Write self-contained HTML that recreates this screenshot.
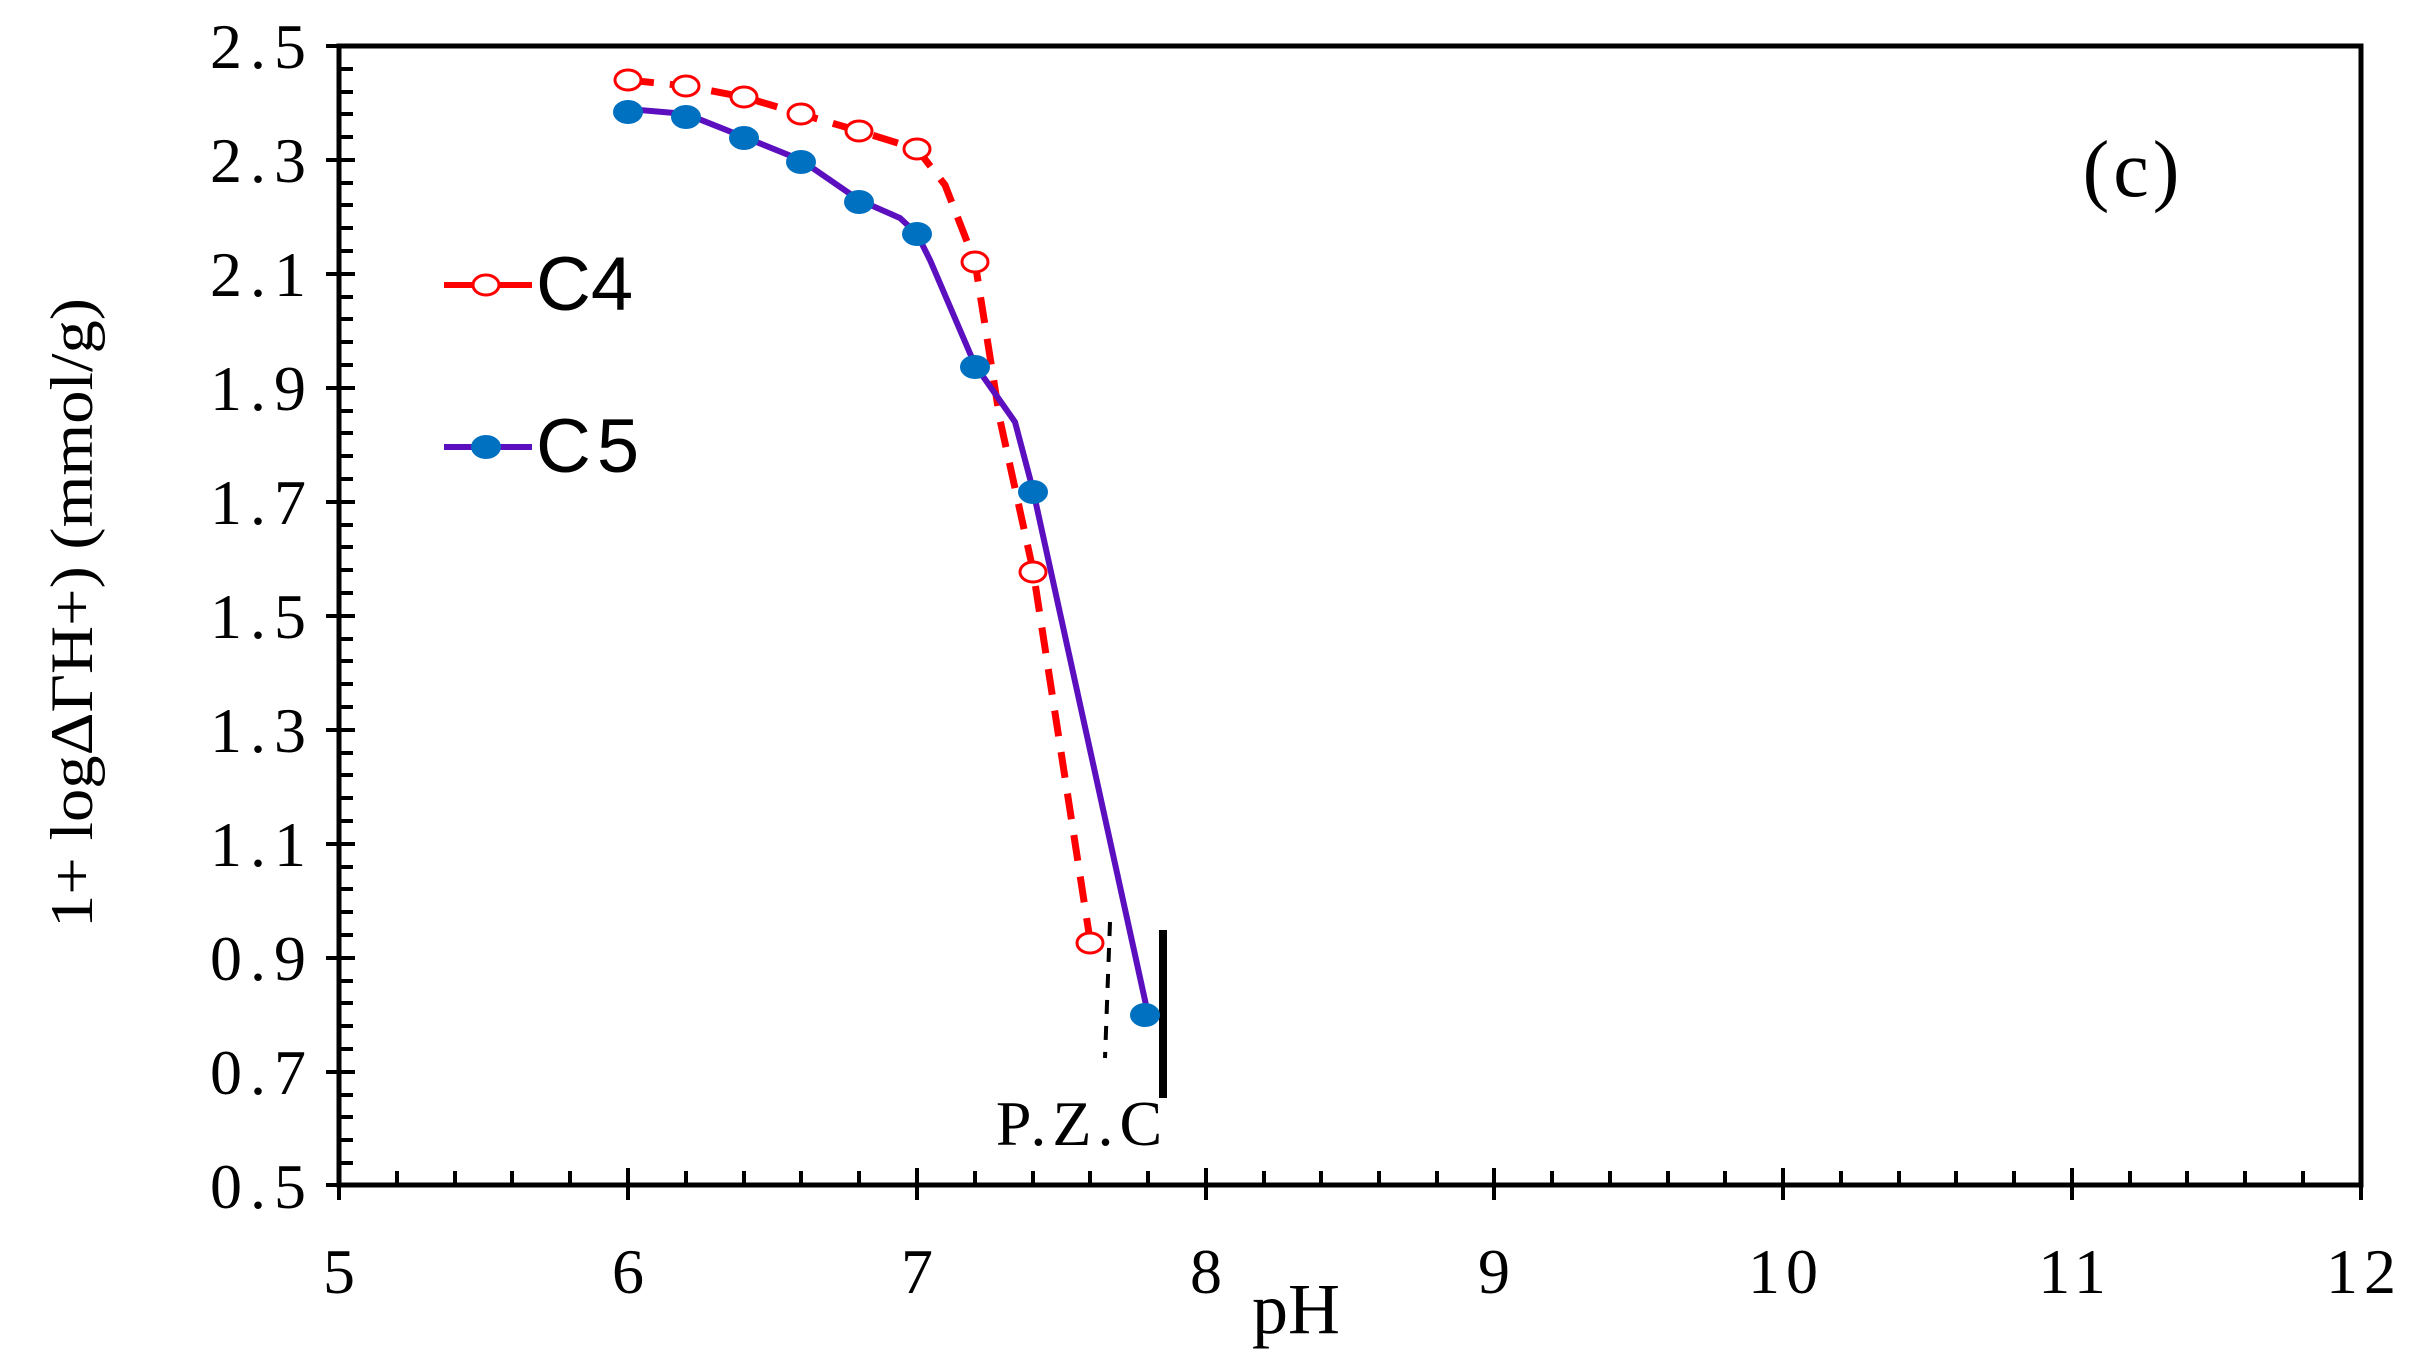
<!DOCTYPE html>
<html><head><style>html,body{margin:0;padding:0;background:#fff;}svg{display:block;}</style></head>
<body>
<svg width="2420" height="1371" viewBox="0 0 2420 1371" xmlns="http://www.w3.org/2000/svg">
<g stroke="#000" stroke-width="4">
<line x1="326" y1="46" x2="355" y2="46"/><line x1="339" y1="69" x2="353" y2="69"/><line x1="339" y1="92" x2="353" y2="92"/><line x1="339" y1="114" x2="353" y2="114"/><line x1="339" y1="137" x2="353" y2="137"/>
<line x1="326" y1="160" x2="355" y2="160"/><line x1="339" y1="183" x2="353" y2="183"/><line x1="339" y1="205" x2="353" y2="205"/><line x1="339" y1="228" x2="353" y2="228"/><line x1="339" y1="251" x2="353" y2="251"/>
<line x1="326" y1="274" x2="355" y2="274"/><line x1="339" y1="297" x2="353" y2="297"/><line x1="339" y1="319" x2="353" y2="319"/><line x1="339" y1="342" x2="353" y2="342"/><line x1="339" y1="365" x2="353" y2="365"/>
<line x1="326" y1="388" x2="355" y2="388"/><line x1="339" y1="411" x2="353" y2="411"/><line x1="339" y1="433" x2="353" y2="433"/><line x1="339" y1="456" x2="353" y2="456"/><line x1="339" y1="479" x2="353" y2="479"/>
<line x1="326" y1="502" x2="355" y2="502"/><line x1="339" y1="525" x2="353" y2="525"/><line x1="339" y1="547" x2="353" y2="547"/><line x1="339" y1="570" x2="353" y2="570"/><line x1="339" y1="593" x2="353" y2="593"/>
<line x1="326" y1="616" x2="355" y2="616"/><line x1="339" y1="639" x2="353" y2="639"/><line x1="339" y1="661" x2="353" y2="661"/><line x1="339" y1="684" x2="353" y2="684"/><line x1="339" y1="707" x2="353" y2="707"/>
<line x1="326" y1="730" x2="355" y2="730"/><line x1="339" y1="753" x2="353" y2="753"/><line x1="339" y1="775" x2="353" y2="775"/><line x1="339" y1="798" x2="353" y2="798"/><line x1="339" y1="821" x2="353" y2="821"/>
<line x1="326" y1="844" x2="355" y2="844"/><line x1="339" y1="867" x2="353" y2="867"/><line x1="339" y1="889" x2="353" y2="889"/><line x1="339" y1="912" x2="353" y2="912"/><line x1="339" y1="935" x2="353" y2="935"/>
<line x1="326" y1="958" x2="355" y2="958"/><line x1="339" y1="981" x2="353" y2="981"/><line x1="339" y1="1003" x2="353" y2="1003"/><line x1="339" y1="1026" x2="353" y2="1026"/><line x1="339" y1="1049" x2="353" y2="1049"/>
<line x1="326" y1="1072" x2="355" y2="1072"/><line x1="339" y1="1095" x2="353" y2="1095"/><line x1="339" y1="1117" x2="353" y2="1117"/><line x1="339" y1="1140" x2="353" y2="1140"/><line x1="339" y1="1163" x2="353" y2="1163"/>
<line x1="326" y1="1185" x2="355" y2="1185"/>
<line x1="339" y1="1168" x2="339" y2="1200"/><line x1="397" y1="1171" x2="397" y2="1185"/><line x1="455" y1="1171" x2="455" y2="1185"/><line x1="512" y1="1171" x2="512" y2="1185"/><line x1="570" y1="1171" x2="570" y2="1185"/>
<line x1="628" y1="1168" x2="628" y2="1200"/><line x1="686" y1="1171" x2="686" y2="1185"/><line x1="744" y1="1171" x2="744" y2="1185"/><line x1="801" y1="1171" x2="801" y2="1185"/><line x1="859" y1="1171" x2="859" y2="1185"/>
<line x1="917" y1="1168" x2="917" y2="1200"/><line x1="975" y1="1171" x2="975" y2="1185"/><line x1="1033" y1="1171" x2="1033" y2="1185"/><line x1="1090" y1="1171" x2="1090" y2="1185"/><line x1="1148" y1="1171" x2="1148" y2="1185"/>
<line x1="1206" y1="1168" x2="1206" y2="1200"/><line x1="1264" y1="1171" x2="1264" y2="1185"/><line x1="1321" y1="1171" x2="1321" y2="1185"/><line x1="1379" y1="1171" x2="1379" y2="1185"/><line x1="1437" y1="1171" x2="1437" y2="1185"/>
<line x1="1494" y1="1168" x2="1494" y2="1200"/><line x1="1552" y1="1171" x2="1552" y2="1185"/><line x1="1610" y1="1171" x2="1610" y2="1185"/><line x1="1668" y1="1171" x2="1668" y2="1185"/><line x1="1725" y1="1171" x2="1725" y2="1185"/>
<line x1="1783" y1="1168" x2="1783" y2="1200"/><line x1="1841" y1="1171" x2="1841" y2="1185"/><line x1="1899" y1="1171" x2="1899" y2="1185"/><line x1="1956" y1="1171" x2="1956" y2="1185"/><line x1="2014" y1="1171" x2="2014" y2="1185"/>
<line x1="2072" y1="1168" x2="2072" y2="1200"/><line x1="2130" y1="1171" x2="2130" y2="1185"/><line x1="2187" y1="1171" x2="2187" y2="1185"/><line x1="2245" y1="1171" x2="2245" y2="1185"/><line x1="2303" y1="1171" x2="2303" y2="1185"/>
<line x1="2361" y1="1168" x2="2361" y2="1200"/>
</g>
<rect x="339" y="46" width="2022" height="1139" fill="none" stroke="#000" stroke-width="5"/>
<g font-family="Liberation Serif, serif" font-size="64" fill="#000" text-anchor="end" letter-spacing="8">
<text x="314" y="68">2.5</text><text x="314" y="182">2.3</text><text x="314" y="296">2.1</text><text x="314" y="410">1.9</text><text x="314" y="524">1.7</text><text x="314" y="638">1.5</text><text x="314" y="752">1.3</text><text x="314" y="866">1.1</text><text x="314" y="980">0.9</text><text x="314" y="1094">0.7</text><text x="314" y="1208">0.5</text>
</g>
<g font-family="Liberation Serif, serif" font-size="64" fill="#000" text-anchor="middle" letter-spacing="6">
<text x="342" y="1293">5</text><text x="631" y="1293">6</text><text x="920" y="1293">7</text><text x="1209" y="1293">8</text><text x="1497" y="1293">9</text><text x="1786" y="1293">10</text><text x="2075" y="1293">11</text><text x="2364" y="1293">12</text>
</g>
<text x="1296" y="1333" font-family="Liberation Serif, serif" font-size="72" text-anchor="middle">pH</text>
<text transform="translate(92,613) rotate(-90)" font-family="Liberation Serif, serif" font-size="60" text-anchor="middle" textLength="630" lengthAdjust="spacingAndGlyphs">1+ logΔΓH+) (mmol/g)</text>
<text x="2133" y="196" font-family="Liberation Serif, serif" font-size="80" text-anchor="middle" letter-spacing="4">(c)</text>
<text x="1082" y="1145" font-family="Liberation Serif, serif" font-size="64" text-anchor="middle" letter-spacing="6">P.Z.C</text>
<line x1="1110" y1="922" x2="1105" y2="1058" stroke="#000" stroke-width="4" stroke-dasharray="14,12"/>
<line x1="1163" y1="930" x2="1163" y2="1098" stroke="#000" stroke-width="8"/>
<!-- C4 -->
<polyline fill="none" stroke="#ff0000" stroke-width="7" stroke-dasharray="26,16" points="628,80 686,86 744,97 801,114 859,131 917,149 945,185 975,262 1000,420 1033,570 1090,940"/>
<g fill="#fff" stroke="#ff0000" stroke-width="3">
<ellipse cx="628" cy="80" rx="13" ry="10"/><ellipse cx="686" cy="86" rx="13" ry="10"/><ellipse cx="744" cy="97" rx="13" ry="10"/><ellipse cx="801" cy="114" rx="13" ry="10"/><ellipse cx="859" cy="131" rx="13" ry="10"/><ellipse cx="917" cy="149" rx="13" ry="10"/><ellipse cx="975" cy="262" rx="13" ry="10"/><ellipse cx="1033" cy="572" rx="13" ry="10"/><ellipse cx="1090" cy="943" rx="13" ry="10"/>
</g>
<!-- C5 -->
<polyline fill="none" stroke="#5b0fbe" stroke-width="6" points="628,109 686,114 744,137 801,160 859,200 900,218 917,234 930,260 975,365 1015,422 1033,490 1148,1014"/>
<g fill="#0070c0">
<ellipse cx="628" cy="112" rx="15" ry="12"/><ellipse cx="686" cy="117" rx="15" ry="12"/><ellipse cx="744" cy="138" rx="15" ry="12"/><ellipse cx="801" cy="162" rx="15" ry="12"/><ellipse cx="859" cy="202" rx="15" ry="12"/><ellipse cx="917" cy="234" rx="15" ry="12"/><ellipse cx="975" cy="367" rx="15" ry="12"/><ellipse cx="1033" cy="492" rx="15" ry="12"/><ellipse cx="1145" cy="1015" rx="15" ry="12"/>
</g>
<!-- legend -->
<line x1="444" y1="285" x2="532" y2="285" stroke="#ff0000" stroke-width="6"/>
<ellipse cx="486" cy="285" rx="13" ry="10" fill="#fff" stroke="#ff0000" stroke-width="3"/>
<text x="536" y="310" font-family="Liberation Sans, sans-serif" font-size="76">C4</text>
<line x1="444" y1="447" x2="532" y2="447" stroke="#5b0fbe" stroke-width="6"/>
<ellipse cx="486" cy="447" rx="15" ry="12" fill="#0070c0"/>
<text x="536" y="472" font-family="Liberation Sans, sans-serif" font-size="76" letter-spacing="6">C5</text>
</svg>
</body></html>
